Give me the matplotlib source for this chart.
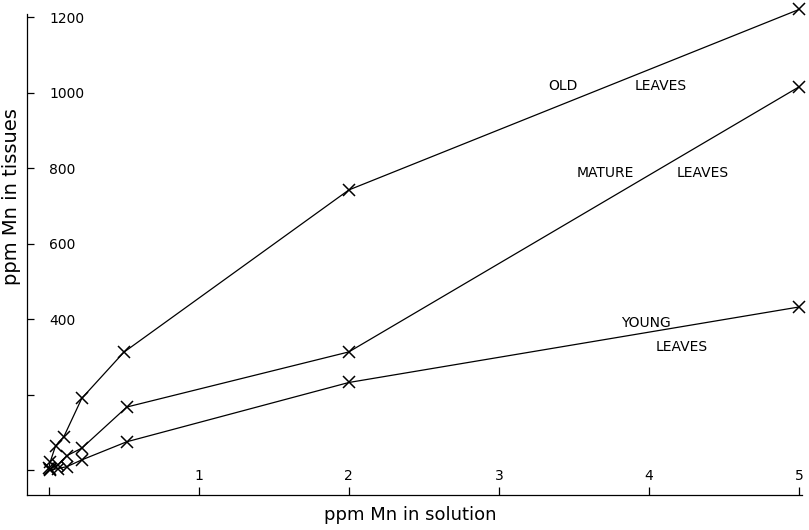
import matplotlib
matplotlib.use("Agg")
import matplotlib.pyplot as plt

# Data
old_x = [0.0, 0.01, 0.045, 0.10, 0.22, 0.50, 2.0, 5.0]
old_y = [5, 22, 64, 88, 190, 312, 742, 1220]
mature_x = [0.005, 0.06, 0.12, 0.22, 0.52, 2.0, 5.0]
mature_y = [2, 14, 38, 58, 167, 313, 1015]
young_x = [0.005, 0.06, 0.12, 0.22, 0.52, 2.0, 5.0]
young_y = [0, 4, 9, 27, 75, 232, 432]

x_ticks = [0, 1, 2, 3, 4, 5]
x_tick_labels = ["", "1", "2", "3", "4", "5"]
y_ticks = [0, 200, 400, 600, 800, 1000, 1200]
y_tick_labels = ["", "", "400", "600", "800", "1000", "1200"]

plt.rcParams['font.family'] = ['DejaVu Sans']
fig = plt.figure(figsize=(8.09, 5.30), dpi=100)
ax = fig.add_axes([27/809, 35/530, 775/809, 481/530])

for xs, ys in [(old_x, old_y), (mature_x, mature_y), (young_x, young_y)]:
    ax.plot(xs, ys, color='black', lw=0.9, marker='x', ms=8, mew=1.1,
            mfc='none', mec='black', clip_on=False)

ax.set_xlim(-0.145, 5.02)
ax.set_ylim(-66, 1208)

for s in ['top', 'right']:
    ax.spines[s].set_visible(False)
for s in ['left', 'bottom']:
    ax.spines[s].set_linewidth(0.9)

ax.set_xticks(x_ticks)
ax.set_xticklabels(x_tick_labels, fontsize=10)
ax.set_yticks(y_ticks)
ax.set_yticklabels(y_tick_labels, fontsize=10)
ax.tick_params(axis='y', direction='in', length=5, width=0.9, pad=-16)
ax.tick_params(axis='x', direction='in', length=6, width=0.9, pad=-19)
for lab in ax.get_yticklabels():
    lab.set_horizontalalignment('left')

ax.set_xlabel("ppm Mn in solution", fontsize=13)
ax.xaxis.set_label_coords(0.495, -0.022)
ax.set_ylabel("ppm Mn in tissues", fontsize=14)
ax.yaxis.set_label_coords(-0.02, 0.62)
ax.yaxis.label.set_verticalalignment('center')

lab_kw = dict(fontsize=10, ha='center', va='center')
ax.text(3.43, 1017, "OLD", **lab_kw)
ax.text(4.08, 1017, "LEAVES", **lab_kw)
ax.text(3.71, 787, "MATURE", **lab_kw)
ax.text(4.36, 787, "LEAVES", **lab_kw)
ax.text(3.98, 390, "YOUNG", **lab_kw)
ax.text(4.22, 326, "LEAVES", **lab_kw)

fig.savefig("out.png", dpi=100)
